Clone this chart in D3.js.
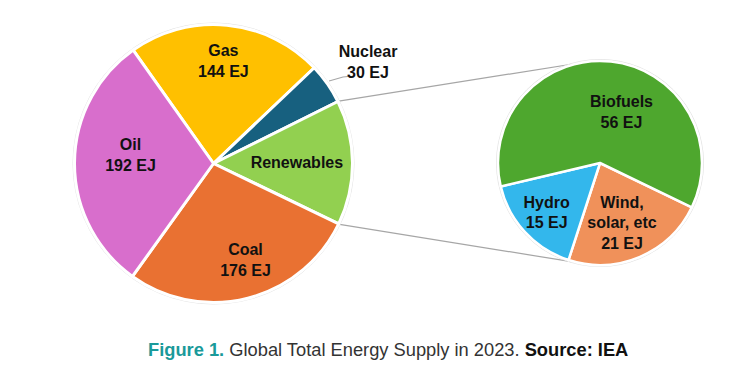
<!DOCTYPE html>
<html>
<head>
<meta charset="utf-8">
<script src="https://cdn.jsdelivr.net/npm/d3@7"></script>
<style>
  body { margin: 0; background: #fff; }
  svg { display: block; font-family: "Liberation Sans", Arial, sans-serif; }
</style>
</head>
<body>
<svg width="754" height="375"></svg>
<script>
// main pie, clockwise from the Oil/Gas boundary
const mainNames = ["Gas", "Nuclear", "Renewables", "Coal", "Oil"];
const mainValues = [144, 30, 92, 176, 192];
const mainColors = ["#FFC000", "#17607F", "#92D050", "#E97132", "#D86ECC"];

// renewables breakdown, clockwise from the Biofuels/Wind boundary
const subNames = ["Wind, solar, etc", "Hydro", "Biofuels"];
const subValues = [21, 15, 56];
const subColors = ["#F0915A", "#33B7EC", "#4EA72E"];

// label text lines
const labelLines = {
  Gas: ["Gas", "144 EJ"],
  Nuclear: ["Nuclear", "30 EJ"],
  Renewables: ["Renewables"],
  Coal: ["Coal", "176 EJ"],
  Oil: ["Oil", "192 EJ"],
  "Wind, solar, etc": ["Wind,", "solar, etc", "21 EJ"],
  Hydro: ["Hydro", "15 EJ"],
  Biofuels: ["Biofuels", "56 EJ"],
};

// label placement: [angle deg, fraction of radius]
const labelPolar = {
  Gas: [5.5, 0.74], Nuclear: [56.7, 1.33], Renewables: [89, 0.6],
  Coal: [161.7, 0.733], Oil: [275.8, 0.6],
  "Wind, solar, etc": [159.6, 0.62], Hydro: [227.4, 0.71], Biofuels: [22.7, 0.545],
};

const rad = (d) => (d * Math.PI) / 180;
const svg = d3.select("svg");

const MAIN = { cx: 213.5, cy: 163.5, r: 139, start: -35.3 };
const SUB = { cx: 600, cy: 163, r: 102, start: 115.8 };

const mainArcs = d3.pie().sort(null)
  .startAngle(rad(MAIN.start)).endAngle(rad(MAIN.start) + 2 * Math.PI)(mainValues);
const subArcs = d3.pie().sort(null)
  .startAngle(rad(SUB.start)).endAngle(rad(SUB.start) + 2 * Math.PI)(subValues);

const polar = (c, a, r) => [c.cx + r * Math.sin(a), c.cy - r * Math.cos(a)];

// tangent point from external point p onto circle c (side = +1 / -1)
function tangent(p, c, side) {
  const vx = c.cx - p[0], vy = c.cy - p[1];
  const d = Math.hypot(vx, vy);
  const th = Math.asin(c.r / d) * side;
  const L = Math.sqrt(d * d - c.r * c.r);
  const ux = vx / d, uy = vy / d;
  return [p[0] + L * (ux * Math.cos(th) - uy * Math.sin(th)),
          p[1] + L * (ux * Math.sin(th) + uy * Math.cos(th))];
}

// connector lines
const ren = mainArcs[mainNames.indexOf("Renewables")];
const pTop = polar(MAIN, ren.startAngle, MAIN.r + 1);
const pBot = polar(MAIN, ren.endAngle, MAIN.r + 1);
svg.append("line").attr("x1", pTop[0]).attr("y1", pTop[1])
  .attr("x2", tangent(pTop, SUB, -1)[0]).attr("y2", tangent(pTop, SUB, -1)[1])
  .attr("stroke", "#a6a6a6").attr("stroke-width", 1.2);
svg.append("line").attr("x1", pBot[0]).attr("y1", pBot[1])
  .attr("x2", tangent(pBot, SUB, 1)[0]).attr("y2", tangent(pBot, SUB, 1)[1])
  .attr("stroke", "#a6a6a6").attr("stroke-width", 1.2);

function drawPie(c, arcs, colors, sw) {
  const g = svg.append("g").attr("transform", `translate(${c.cx},${c.cy})`);
  g.append("circle").attr("r", c.r + 1.5).attr("fill", "none")
    .attr("stroke", "#e4e4e4").attr("stroke-width", 1);
  g.selectAll("path").data(arcs).join("path")
    .attr("d", d3.arc().innerRadius(0).outerRadius(c.r))
    .attr("fill", (d, i) => colors[i])
    .attr("stroke", "#fff").attr("stroke-width", sw)
    .attr("stroke-linejoin", "round");
}
drawPie(MAIN, mainArcs, mainColors, 3);
drawPie(SUB, subArcs, subColors, 2.5);

// nuclear leader line
const nuc = mainArcs[mainNames.indexOf("Nuclear")];
const nucStart = polar(MAIN, (nuc.startAngle + nuc.endAngle) / 2 - rad(0.5), MAIN.r + 3);
const nucLabel = polar(MAIN, rad(labelPolar.Nuclear[0]), labelPolar.Nuclear[1] * MAIN.r);
svg.append("polyline")
  .attr("points", [nucStart, [nucLabel[0] - 25, nucLabel[1] + 15], [nucLabel[0] - 20, nucLabel[1] + 14.5]].map((p) => p.join(",")).join(" "))
  .attr("fill", "none").attr("stroke", "#a6a6a6").attr("stroke-width", 1.2);

function drawLabels(c, names, lh) {
  names.forEach((n) => {
    const [a, f] = labelPolar[n];
    const [x, y] = polar(c, rad(a), f * c.r);
    const lines = labelLines[n];
    const first = y - ((lines.length - 1) * lh) / 2 + 5.75;
    const t = svg.append("text").attr("text-anchor", "middle")
      .attr("font-size", 16).attr("font-weight", "bold").attr("fill", "#111");
    lines.forEach((s, i) => t.append("tspan").attr("x", x).attr("y", first + i * lh).text(s));
  });
}
drawLabels(MAIN, mainNames, 21);
drawLabels(SUB, subNames, 20.5);

// caption
const cap = svg.append("text").attr("x", 148).attr("y", 356).attr("font-size", 18.3);
cap.append("tspan").attr("font-weight", "bold").attr("fill", "#1A9A9A").text("Figure 1.");
cap.append("tspan").attr("fill", "#333").text(" Global Total Energy Supply in 2023. ");
cap.append("tspan").attr("font-weight", "bold").attr("fill", "#111").text("Source: IEA");
</script>
</body>
</html>
